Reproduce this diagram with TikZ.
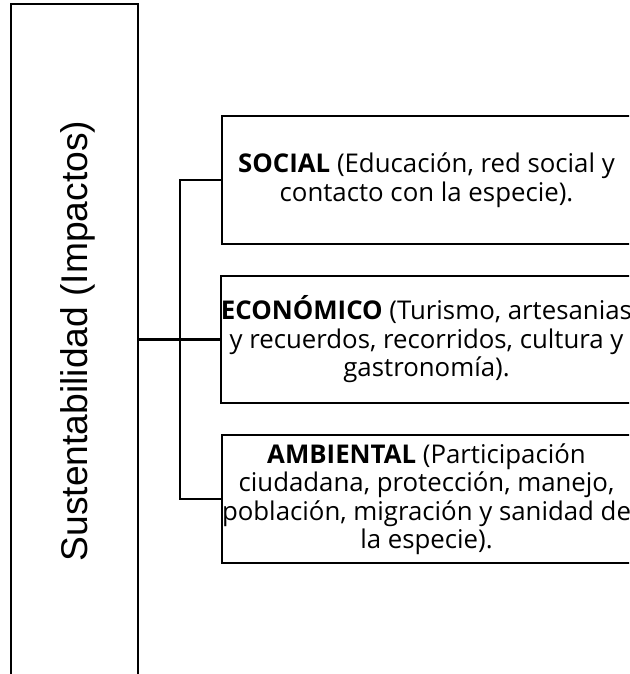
\documentclass[tikz,border=0pt]{standalone}
\usepackage{fontspec}
\setmainfont{Open Sans}
\newfontfamily\labelfont{Liberation Sans}
\begin{document}
\begin{tikzpicture}[x=1pt,y=-1pt,
  frame/.style={draw, line width=2.2pt, inner sep=0pt},
  impact/.style={frame, minimum width=409pt, align=center,
    font=\fontsize{25.8}{28.5}\selectfont},
  link/.style={draw, line width=2.2pt}]
\useasboundingbox (0,0) rectangle (629,674);
\clip (0,0) rectangle (629,674);
\fill[white] (0,0) rectangle (629,674);
\node[frame, minimum width=127pt, minimum height=676pt] (main) at (74.5,342) {};
\node[rotate=90, inner sep=0pt, font=\labelfont\fontsize{37.2}{40}\selectfont] (mainlabel) at (77.5,341) {Sustentabilidad (Impactos)};
\node[impact, minimum height=128pt] (social) at (426.5,180)
  {\textbf{SOCIAL} (Educación, red social y\\contacto con la especie).};
\node[impact, minimum height=127pt] (eco) at (426.5,339.5)
  {\textbf{ECONÓMICO} (Turismo, artesanias\\y recuerdos, recorridos, cultura y\\gastronomía).};
\node[impact, minimum height=128pt] (amb) at (426.5,499)
  {\textbf{AMBIENTAL} (Participación\\ciudadana, protección, manejo,\\población, migración y sanidad de\\la especie).};
\coordinate (junc) at (180,339.5);
\draw[link] (main.east |- eco.west) -- (eco.west);
\draw[link] (social.west) -| (junc) |- (amb.west);
\end{tikzpicture}
\end{document}
